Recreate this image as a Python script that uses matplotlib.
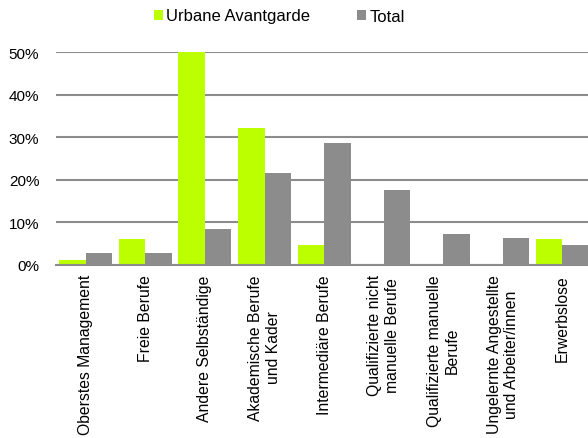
import matplotlib.pyplot as plt
import numpy as np
from matplotlib.ticker import PercentFormatter

plt.rcParams['font.family'] = ['Liberation Sans', 'DejaVu Sans']

categories = [
    'Oberstes Management',
    'Freie Berufe',
    'Andere Selbständige',
    'Akademische Berufe\nund Kader',
    'Intermediäre Berufe',
    'Qualifizierte nicht\nmanuelle Berufe',
    'Qualifizierte manuelle\nBerufe',
    'Ungelernte Angestellte\nund Arbeiter/innen',
    'Erwerbslose',
]
urbane = [1.0, 6.0, 50.0, 32.2, 4.6, 0.0, 0.0, 0.0, 6.0]
total = [2.6, 2.8, 8.3, 21.6, 28.7, 17.5, 7.3, 6.2, 4.6]

green = '#bbff00'
grey = '#8c8c8c'

fig = plt.figure(figsize=(5.88, 4.39), dpi=100)
ax = fig.add_axes([56 / 588, 1 - 265.5 / 439, 1 - 56 / 588, 212.2 / 439])

x = np.arange(len(categories))
w = 0.445
ax.bar(x - w / 2, urbane, w, color=green, linewidth=0,
       label='Urbane Avantgarde', zorder=3)
ax.bar(x + w / 2, total, w, color=grey, linewidth=0,
       label='Total', zorder=3)

ax.set_xlim(-0.5, 8.43)
ax.set_ylim(0, 50)
ax.set_yticks(np.arange(0, 51, 10))
ax.yaxis.set_major_formatter(PercentFormatter(decimals=0))
ax.yaxis.grid(True, color=grey, linewidth=1.5, zorder=0)
ax.set_axisbelow(True)

for side in ['left', 'right', 'top']:
    ax.spines[side].set_visible(False)
ax.spines['bottom'].set_color(grey)
ax.spines['bottom'].set_linewidth(1.5)
ax.spines['bottom'].set_zorder(4)

ax.set_xticks(x)
ax.set_xticklabels(categories, rotation=90, ha='center', va='top',
                   multialignment='center', fontsize=11.3)
ax.tick_params(axis='x', length=0, pad=7)
ax.tick_params(axis='y', length=0, pad=12, labelsize=11)

fig.legend(loc='center', bbox_to_anchor=(0.475, 1 - 17 / 439), ncol=2,
           frameon=False, fontsize=12, handlelength=0.55, handleheight=0.55,
           handletextpad=0.2, columnspacing=2.8, borderaxespad=0)

fig.savefig('out.png', dpi=100)
